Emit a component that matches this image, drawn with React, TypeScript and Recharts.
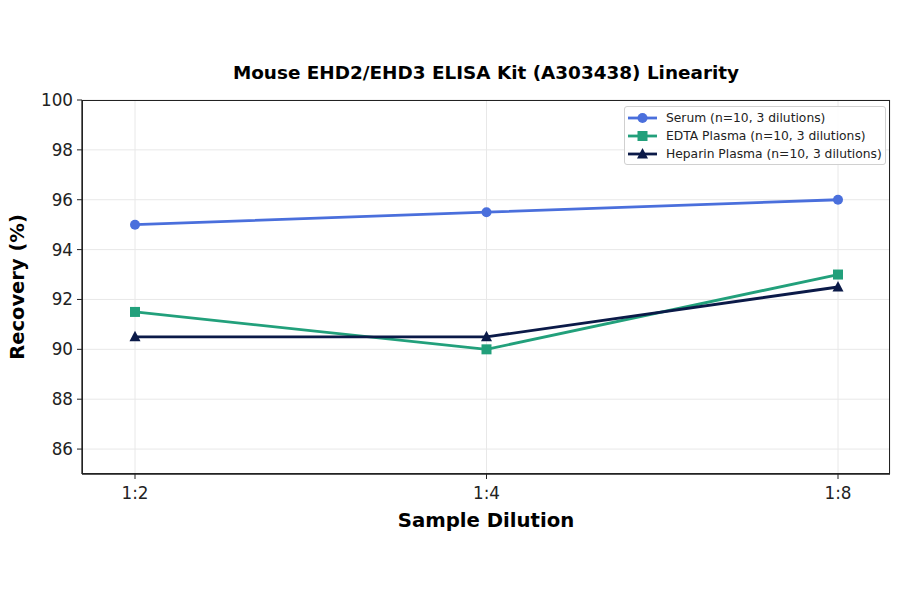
import React from "react";
import {
  LineChart,
  Line,
  XAxis,
  YAxis,
  CartesianGrid,
  Legend,
  Label,
} from "recharts";

const dilutions = ["1:2", "1:4", "1:8"];
const serum = [95, 95.5, 96];
const edtaPlasma = [91.5, 90, 93];
const heparinPlasma = [90.5, 90.5, 92.5];
const yTicks = [86, 88, 90, 92, 94, 96, 98, 100];

const series = [
  { key: "serum", name: "Serum (n=10, 3 dilutions)", color: "#4a6fdc", shape: "circle" },
  { key: "edta", name: "EDTA Plasma (n=10, 3 dilutions)", color: "#22a07b", shape: "square" },
  { key: "heparin", name: "Heparin Plasma (n=10, 3 dilutions)", color: "#0b1a48", shape: "triangle" },
];

const data = dilutions.map((d, i) => ({
  dilution: d,
  serum: serum[i],
  edta: edtaPlasma[i],
  heparin: heparinPlasma[i],
}));

const FONT = "'DejaVu Sans', sans-serif";

function Marker({ cx, cy, shape, color }: any) {
  if (cx == null || cy == null) return null;
  if (shape === "square")
    return <rect x={cx - 5} y={cy - 5} width={10} height={10} fill={color} />;
  if (shape === "triangle")
    return (
      <polygon
        points={`${cx},${cy - 6} ${cx - 5.5},${cy + 4.5} ${cx + 5.5},${cy + 4.5}`}
        fill={color}
      />
    );
  return <circle cx={cx} cy={cy} r={5} fill={color} />;
}

function LegendBox() {
  return (
    <div
      style={{
        position: "absolute",
        left: 624,
        top: 106,
        width: 262,
        height: 59,
        border: "1px solid #d0d0d0",
        borderRadius: 3,
        background: "rgba(255,255,255,0.85)",
        fontFamily: FONT,
        fontSize: 12.3,
        color: "#222",
        boxSizing: "border-box",
        padding: "2px 0 0 3px",
        whiteSpace: "nowrap",
      }}
    >
      {series.map((s) => (
        <div key={s.key} style={{ display: "flex", alignItems: "center", height: 18 }}>
          <svg width={30} height={14} style={{ marginRight: 8 }}>
            <line x1={0} y1={7} x2={29} y2={7} stroke={s.color} strokeWidth={2.8} />
            <Marker cx={14.5} cy={7} shape={s.shape} color={s.color} />
          </svg>
          <span>{s.name}</span>
        </div>
      ))}
    </div>
  );
}

const renderYLabel = (props: any) => {
  const vb = props.viewBox;
  const cy = vb.y + vb.height / 2;
  return (
    <text
      x={17}
      y={cy}
      transform={`rotate(-90, 17, ${cy})`}
      textAnchor="middle"
      dominantBaseline="central"
      fontFamily={FONT}
      fontSize={19.5}
      fontWeight="bold"
      fill="#000"
    >
      Recovery (%)
    </text>
  );
};

export default function App() {
  return (
    <div
      style={{
        position: "absolute",
        left: 0,
        top: 0,
        width: 900,
        height: 594,
        background: "#fff",
      }}
    >
      <div
        style={{
          position: "absolute",
          left: 82,
          width: 808,
          top: 62,
          textAlign: "center",
          fontFamily: FONT,
          fontSize: 18.4,
          fontWeight: "bold",
          color: "#000",
        }}
      >
        Mouse EHD2/EHD3 ELISA Kit (A303438) Linearity
      </div>
      <LineChart
        width={900}
        height={594}
        data={data}
        margin={{ top: 100, right: 10, bottom: 0, left: 0 }}
      >
        <CartesianGrid stroke="#e8e8e8" strokeWidth={1} />
        <XAxis
          dataKey="dilution"
          padding={{ left: 53, right: 52 }}
          height={120}
          tick={{ fontFamily: FONT, fontSize: 16.8, fill: "#222" }}
          tickSize={5}
          tickMargin={8}
          stroke="#222"
          axisLine={{ stroke: "#222", strokeWidth: 1.3 }}
        >
          <Label
            value="Sample Dilution"
            position="insideTop"
            offset={39}
            style={{ fontFamily: FONT, fontSize: 19.7, fontWeight: "bold", fill: "#000" }}
          />
        </XAxis>
        <YAxis
          domain={[85, 100]}
          ticks={yTicks}
          width={82}
          tick={{ fontFamily: FONT, fontSize: 16.8, fill: "#222" }}
          tickSize={5}
          tickMargin={4}
          stroke="#222"
          axisLine={{ stroke: "#222", strokeWidth: 1.3 }}
          allowDataOverflow
        >
          <Label content={renderYLabel} />
        </YAxis>
        {series.map((s) => (
          <Line
            key={s.key}
            dataKey={s.key}
            name={s.name}
            stroke={s.color}
            strokeWidth={2.8}
            isAnimationActive={false}
            dot={(p: any) => <Marker key={`${s.key}-${p.index}`} cx={p.cx} cy={p.cy} shape={s.shape} color={s.color} />}
            activeDot={false}
          />
        ))}
        <Legend content={() => null} />
      </LineChart>
      <div
        style={{
          position: "absolute",
          left: 82,
          top: 100,
          width: 808,
          height: 374,
          border: "1.3px solid #222",
          boxSizing: "border-box",
          pointerEvents: "none",
        }}
      />
      <LegendBox />
    </div>
  );
}
